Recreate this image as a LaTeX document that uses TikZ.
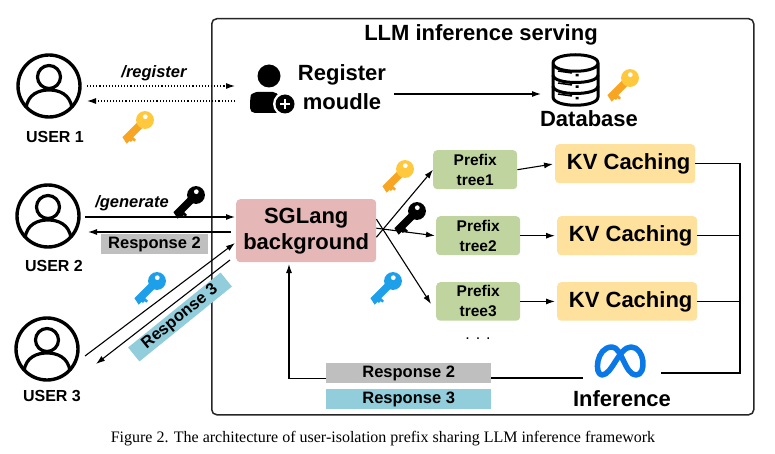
\documentclass[tikz,border=0pt]{standalone}
\usepackage{fontspec}
\setmainfont{Liberation Sans}
\newfontfamily\capfont{Liberation Serif}
\usetikzlibrary{arrows.meta,calc}
\definecolor{sgcol}{HTML}{E5B8B7}
\definecolor{treecol}{HTML}{C0D4A0}
\definecolor{kvcol}{HTML}{FFE19E}
\definecolor{greyresp}{HTML}{BFBFBF}
\definecolor{blueresp}{HTML}{92CDDC}
\definecolor{keyor}{HTML}{F7A522}
\definecolor{keyorb}{HTML}{FFC83D}
\definecolor{keybl}{HTML}{1E9FEA}
\definecolor{metablue}{HTML}{0A78E6}
\tikzset{
  x=1pt,y=-1pt,
  lbl/.style={font=\bfseries\fontsize{#1}{#1}\selectfont,inner sep=0pt,align=center},
  lbl/.default=16,
  conn/.style={line width=1.1pt,-{Latex[length=9pt,width=6pt]}},
  plain/.style={line width=1.1pt},
  dot/.style={line width=1.1pt,dotted,-{Latex[length=9pt,width=6pt]}},
  fbox/.style={rounded corners=4pt,inner sep=0pt,anchor=north west,align=center},
  pics/userico/.style={code={
    \draw[line width=3.4pt] (0,0) circle[radius=31pt];
    \draw[line width=3.2pt] (0,-9) circle[radius=11.5pt];
    \draw[line width=3.2pt] (-23,22) .. controls (-21,8) and (-10,4) .. (0,4) .. controls (10,4) and (21,8) .. (23,22);
  }},
  pics/keyico/.style n args={2}{code={
    \begin{scope}[rotate=45,scale=0.85]
      \fill[#1] (-33,-4.5) -- (-4,-4.5) -- (-4,4.5) -- (-24,4.5) -- (-24,9) -- (-27,9) -- (-27,6.5) -- (-30,6.5) -- (-30,4.5) -- (-35,4.5) -- cycle;
      \fill[#2] (0,0) circle[radius=10.5pt];
      \fill[white] (3,-2.5) circle[radius=2.8pt];
    \end{scope}
  }}
}
\begin{document}
\begin{tikzpicture}
\useasboundingbox (0,0) rectangle (775,454);
\fill[white] (0,0) rectangle (775,454);
% frame
\node[draw=black!85,line width=1.5pt,rounded corners=5pt,minimum width=542pt,minimum height=396pt,anchor=north west,inner sep=0pt] (frame) at (211,18) {};
\node[lbl=22] (title) at (481,35) {LLM inference serving};
% users
\coordinate (u1) at (49,86);
\coordinate (u2) at (48,216);
\coordinate (u3) at (47,349);
\pic at (u1) {userico};
\pic at (u2) {userico};
\pic at (u3) {userico};
\node[lbl=16] (ul1) at (55,137) {USER 1};
\node[lbl=16] (ul2) at (54,266) {USER 2};
\node[lbl=16] (ul3) at (52,396) {USER 3};
% register
\fill (269,76) circle[radius=11.5pt];
\fill[rounded corners=5pt] (250,113) -- (250,100) .. controls (251,94) and (256,92) .. (262,92) -- (278,92) -- (282,113) -- cycle;
\fill[white] (285,104) circle[radius=12pt];
\fill (285,104) circle[radius=9.5pt];
\draw[white,line width=2pt] (280,104) -- (290,104) (285,99) -- (285,109);
\coordinate (regin) at (235,86);
\coordinate (regout) at (235,101);
\coordinate (uin) at (87,86);
\coordinate (uout) at (87,101);
\node[lbl=22] (regtxt) at (342,75) {Register};
\node[lbl=22] (regtxt2) at (342,102) {moudle};
\coordinate (regs) at (394,94);
\coordinate (dbin) at (541,94);
\draw[dot] (uin) -- (regin);
\draw[dot] (regout) -- (uout);
\draw[conn] (regs) -- (dbin);
\node[lbl=16.5] at (154,73) {\itshape /register};
\pic at (145,120) {keyico={keyor}{keyorb}};
% database
\begin{scope}[line width=3pt,line join=round]
  \draw (553,63) .. controls (553,52) and (598,52) .. (598,63) .. controls (598,74) and (553,74) .. (553,63) -- (553,97) .. controls (553,108) and (598,108) .. (598,97) -- (598,63);
  \draw (553,75) .. controls (553,85) and (598,85) .. (598,75);
  \draw (553,86) .. controls (553,96) and (598,96) .. (598,86);
\end{scope}
\draw[line width=1.5pt] (558,71) -- (572,73) (558,83) -- (572,85) (558,94) -- (572,96);
\fill (575.5,74) rectangle +(3,2.5) (575.5,85.5) rectangle +(3,2.5) (575.5,97) rectangle +(3,2.5);
\pic at (630,78) {keyico={keyor}{keyorb}};
\node[lbl=22] (db) at (589,119) {Database};
% SGLang
\node[fbox,fill=sgcol,minimum width=140pt,minimum height=63pt,lbl=22] (sg) at (236,199) {SGLang\\[4pt]background};
\coordinate (ug) at (85,217);
\coordinate (ur) at (88,232);
\coordinate (sgi) at (235,217);
\coordinate (sgr) at (231,232);
\draw[conn] (ug) -- (sgi);
\draw[conn] (sgr) -- (ur);
\node[lbl=16.5] at (132,203) {\itshape /generate};
\pic at (196,195) {keyico={black}{black}};
\node[fill=greyresp,minimum width=107pt,minimum height=20pt,lbl=16.5] (r2a) at (154.5,244) {Response 2};
\coordinate (u3o) at (85,356);
\coordinate (sg3) at (235,243);
\coordinate (sg3r) at (230,260);
\coordinate (u3i) at (96,364);
\draw[conn] (u3o) -- (sg3);
\draw[conn] (sg3r) -- (u3i);
\pic at (157,281) {keyico={keybl}{keybl}};
\node[fill=blueresp,minimum width=119pt,minimum height=18pt,lbl=16.5,rotate=39] (r3a) at (180,317) {Response 3};
% prefix trees
\node[fbox,fill=treecol,minimum width=84pt,minimum height=39pt,lbl=15.5] (t1) at (433,150) {Prefix\\[4.5pt]tree1};
\node[fbox,fill=treecol,minimum width=84pt,minimum height=39pt,lbl=15.5] (t2) at (436,216) {Prefix\\[4.5pt]tree2};
\node[fbox,fill=treecol,minimum width=84pt,minimum height=38.5pt,lbl=15.5] (t3) at (436,282) {Prefix\\[4.5pt]tree3};
\node[fbox,fill=kvcol,minimum width=140pt,minimum height=39pt,lbl=22] (k1) at (555,144) {\hspace*{7pt}KV Caching};
\node[fbox,fill=kvcol,minimum width=140pt,minimum height=39pt,lbl=22] (k2) at (557,216) {\hspace*{7pt}KV Caching};
\node[fbox,fill=kvcol,minimum width=140pt,minimum height=38.5pt,lbl=22] (k3) at (557,282) {\hspace*{7pt}KV Caching};
\node[inner sep=0pt,font=\fontsize{16}{16}\selectfont] (dots) at (478,339) {. . .};
\coordinate (t3in) at (431,304);
\draw[conn] ([yshift=-6.5pt]sg.east) -- (t1.west);
\draw[conn] ([yshift=2.5pt]sg.east) -- ([xshift=-1pt]t2.west);
\draw[conn] ([yshift=11.5pt]sg.east) -- (t3in);
\draw[conn,shorten >=2pt] (t1.east) -- (k1.west);
\draw[conn,shorten >=2pt] (t2.east) -- (k2.west);
\draw[conn,shorten >=2pt] (t3.east) -- (k3.west);
\pic at (405,169) {keyico={keyor}{keyorb}};
\pic at (417,211) {keyico={black}{black}};
\pic at (393,281) {keyico={keybl}{keybl}};
% inference
\draw[metablue,line width=5.5pt,line join=round] (602,375) .. controls (594,375) and (596,347) .. (612,347) .. controls (622,347) and (625,375) .. (636,375) .. controls (647,375) and (645,347) .. (631,347) .. controls (619,347) and (612,375) .. (602,375) -- cycle;
\node[lbl=22] (inf) at (622,399) {Inference};
\coordinate (inr) at (661,373);
\coordinate (inl) at (583,378);
\coordinate (bus) at (740,163);
\draw[plain] (k1.east) -- (k1.east -| bus) -- (bus |- inr) -- (inr);
\draw[plain] (k2.east) -- (k2.east -| bus);
\draw[plain] (k3.east) -- (k3.east -| bus);
\node[fill=greyresp,minimum width=165pt,minimum height=20pt,lbl=16.5,anchor=north west] (r2b) at (326,363) {Response 2};
\node[fill=blueresp,minimum width=165pt,minimum height=20pt,lbl=16.5,anchor=north west] (r3b) at (326,389) {Response 3};
\draw[plain] (inl) -- (inl -| r2b.east);
\coordinate (rl) at ($(r2b.west)+(0,5)$);
\coordinate (sgb) at (289,264);
\draw[conn] (rl) -- (rl -| sgb) -- (sgb);
% caption
\node[inner sep=0pt,font=\capfont\fontsize{16}{17}\selectfont] (cap) at (383,439) {Figure 2. The architecture of user-isolation prefix sharing LLM inference framework};
\end{tikzpicture}
\end{document}
